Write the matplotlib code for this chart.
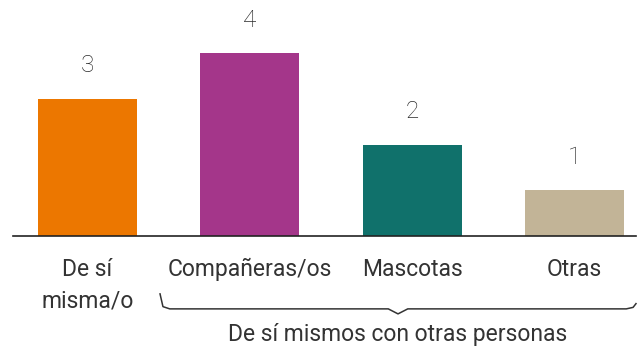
import matplotlib.pyplot as plt
from matplotlib.transforms import blended_transform_factory

categories = ["De sí\nmisma/o", "Compañeras/os", "Mascotas", "Otras"]
values = [3, 4, 2, 1]
colors = ["#EC7700", "#A4368A", "#10716B", "#C2B497"]
group_label = "De sí mismos con otras personas"

plt.rcParams["font.family"] = ["Roboto", "DejaVu Sans"]
text_color = "#333333"

fig = plt.figure(figsize=(6.38, 3.51), dpi=100)
ax = fig.add_axes([13 / 638, 115 / 351, 623 / 638, 0.65])

x = list(range(len(categories)))
ax.bar(x, values, width=0.61, color=colors)
ax.set_xlim(-0.459, 3.38)
ax.set_ylim(0, 5)

for xi, v in zip(x, values):
    ax.annotate(str(v), (xi, v), xytext=(0, 24), textcoords="offset points",
                ha="center", va="center", fontsize=17.5, color="#2a2a2a",
                fontweight="light")

ax.set_xticks(x)
ax.set_xticklabels(categories, fontsize=16.5, color=text_color,
                   linespacing=1.45)
ax.tick_params(axis="x", length=0, pad=16)
ax.set_yticks([])
for side in ["top", "right", "left"]:
    ax.spines[side].set_visible(False)
ax.spines["bottom"].set_color("#222222")
ax.spines["bottom"].set_linewidth(1.2)

# curly brace grouping the last three categories
tr = blended_transform_factory(ax.transData, fig.transFigure)
left, right = 0.447, 3.38
mid = (left + right) / 2
y0 = 0.12
h = 15 / 351
tip = 5 / 351
r = 0.06
bx = [left, left + r * 0.3, left + r, mid - 0.06, mid, mid + 0.06,
      right - r, right - r * 0.3, right]
by = [y0 + h, y0 + h * 0.15, y0, y0, y0 - tip, y0, y0, y0 + h * 0.1, y0 + h * 0.35]
ax.plot(bx, by, color=text_color, lw=1.1, transform=tr, clip_on=False)

fig.text(398 / 638, 16 / 351, group_label, ha="center", va="center",
         fontsize=16.5, color=text_color)

fig.savefig("out.png", dpi=100)
